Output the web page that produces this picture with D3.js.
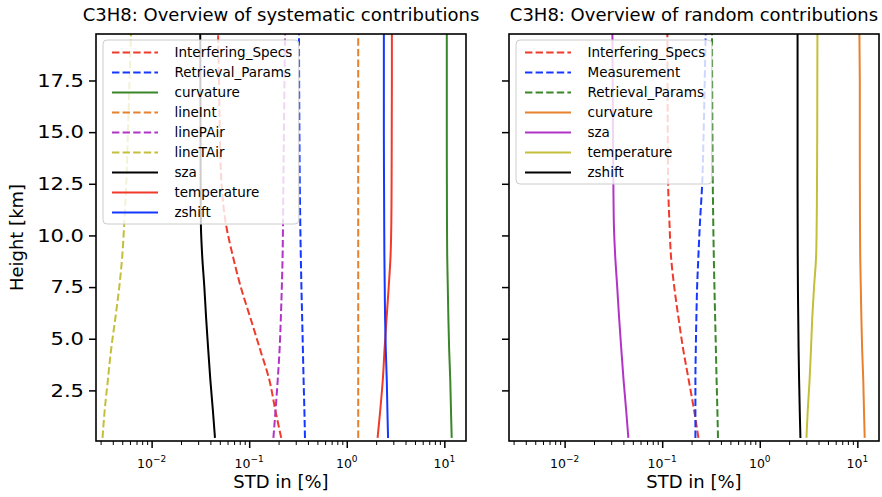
<!DOCTYPE html>
<html>
<head>
<meta charset="utf-8">
<script src="https://cdn.jsdelivr.net/npm/d3@7"></script>
<style>
body { margin: 0; background: #fff; }
text { font-family: "DejaVu Sans", sans-serif; fill: #000; }
</style>
</head>
<body>
<div id="chart"></div>
<script>
// Heights of the profile levels [km].
var heights = [0.2, 1.5, 3, 4.5, 6, 7.5, 9, 10.5, 12.5, 15, 17.5, 19.75];

// Systematic contributions, STD in [%].
var sysInterferingSpecs = [0.213, 0.186, 0.161, 0.129, 0.103, 0.082, 0.068, 0.058, 0.052, 0.050, 0.049, 0.048];
var sysRetrievalParams  = [0.373, 0.368, 0.361, 0.355, 0.349, 0.343, 0.338, 0.334, 0.330, 0.327, 0.325, 0.324];
var sysCurvature        = [11.9, 11.7, 11.5, 11.2, 11.0, 10.85, 10.7, 10.65, 10.62, 10.6, 10.6, 10.6];
var sysLineInt          = [1.31, 1.31, 1.31, 1.31, 1.31, 1.31, 1.31, 1.31, 1.31, 1.31, 1.31, 1.31];
var sysLinePAir         = [0.177, 0.186, 0.196, 0.205, 0.211, 0.216, 0.220, 0.222, 0.224, 0.227, 0.230, 0.233];
var sysLineTAir         = [0.00314, 0.00330, 0.00356, 0.00385, 0.00425, 0.00466, 0.00500, 0.00523, 0.00550, 0.00572, 0.00594, 0.00614];
var sysSza              = [0.0446, 0.0425, 0.0400, 0.0380, 0.0362, 0.0347, 0.0330, 0.0320, 0.0318, 0.0317, 0.0316, 0.0315];
var sysTemperature      = [2.07, 2.20, 2.34, 2.44, 2.56, 2.69, 2.81, 2.86, 2.88, 2.89, 2.90, 2.90];
var sysZshift           = [2.65, 2.61, 2.57, 2.51, 2.47, 2.45, 2.43, 2.42, 2.41, 2.40, 2.40, 2.40];

// Random contributions, STD in [%].
var rndInterferingSpecs = [0.235, 0.213, 0.187, 0.164, 0.147, 0.133, 0.123, 0.119, 0.115, 0.114, 0.1135, 0.113];
var rndMeasurement      = [0.219, 0.219, 0.219, 0.221, 0.224, 0.228, 0.235, 0.243, 0.257, 0.266, 0.273, 0.279];
var rndRetrievalParams  = [0.373, 0.368, 0.361, 0.355, 0.349, 0.343, 0.338, 0.334, 0.330, 0.327, 0.325, 0.324];
var rndCurvature        = [11.9, 11.7, 11.5, 11.2, 11.0, 10.85, 10.7, 10.65, 10.62, 10.6, 10.6, 10.5];
var rndSza              = [0.0450, 0.0428, 0.0402, 0.0381, 0.0362, 0.0346, 0.0330, 0.0320, 0.0316, 0.0313, 0.0311, 0.0309];
var rndTemperature      = [3.01, 3.10, 3.24, 3.35, 3.45, 3.60, 3.78, 3.83, 3.86, 3.88, 3.89, 3.90];
var rndZshift           = [2.61, 2.57, 2.53, 2.50, 2.48, 2.46, 2.45, 2.445, 2.44, 2.44, 2.44, 2.44];

var yTicks = [2.5, 5.0, 7.5, 10.0, 12.5, 15.0, 17.5];
var xDecades = [-2, -1, 0, 1];

var C = {
    red: '#f03a2c', blue: '#1438ff', green: '#3a862a', orange: '#e8812e',
    magenta: '#b234c6', olive: '#c4bf3a', black: '#000000'
};

var sysSeries = [
    { name: 'Interfering_Specs', values: sysInterferingSpecs, color: C.red, dashed: true },
    { name: 'Retrieval_Params', values: sysRetrievalParams, color: C.blue, dashed: true },
    { name: 'curvature', values: sysCurvature, color: C.green, dashed: false },
    { name: 'lineInt', values: sysLineInt, color: C.orange, dashed: true },
    { name: 'linePAir', values: sysLinePAir, color: C.magenta, dashed: true },
    { name: 'lineTAir', values: sysLineTAir, color: C.olive, dashed: true },
    { name: 'sza', values: sysSza, color: C.black, dashed: false },
    { name: 'temperature', values: sysTemperature, color: C.red, dashed: false },
    { name: 'zshift', values: sysZshift, color: C.blue, dashed: false }
];

var rndSeries = [
    { name: 'Interfering_Specs', values: rndInterferingSpecs, color: C.red, dashed: true },
    { name: 'Measurement', values: rndMeasurement, color: C.blue, dashed: true },
    { name: 'Retrieval_Params', values: rndRetrievalParams, color: C.green, dashed: true },
    { name: 'curvature', values: rndCurvature, color: C.orange, dashed: false },
    { name: 'sza', values: rndSza, color: C.magenta, dashed: false },
    { name: 'temperature', values: rndTemperature, color: C.olive, dashed: false },
    { name: 'zshift', values: rndZshift, color: C.black, dashed: false }
];

var svg = d3.select('#chart').append('svg')
    .attr('width', 882)
    .attr('height', 497);

var plotTop = 34, plotBottom = 441;
var yLabelStretch = 1.17;  // tick labels on the height axis are drawn a bit wider

function drawPanel(id, left, right, title, series, showYLabels) {
    var g = svg.append('g');

    var x = d3.scaleLog()
        .domain([Math.pow(10, -2.57), Math.pow(10, 1.222)])
        .range([left, right]);
    var y = d3.scaleLinear()
        .domain([0.05, 19.75])
        .range([plotBottom, plotTop]);

    g.append('clipPath').attr('id', 'clip' + id)
        .append('rect')
        .attr('x', left).attr('y', plotTop)
        .attr('width', right - left).attr('height', plotBottom - plotTop);

    // Profiles.
    var line = d3.line()
        .x(d => x(d.v))
        .y(d => y(d.h))
        .curve(d3.curveMonotoneY);

    var lines = g.append('g').attr('clip-path', 'url(#clip' + id + ')');
    series.forEach(function (s) {
        var pts = heights.map((h, i) => ({ h: h, v: s.values[i] }));
        lines.append('path')
            .attr('d', line(pts))
            .attr('fill', 'none')
            .attr('stroke', s.color)
            .attr('stroke-width', 2)
            .attr('stroke-dasharray', s.dashed ? '7.4,3.2' : null);
    });

    // Y axis.
    var yAxis = g.append('g')
        .attr('transform', 'translate(' + left + ',0)')
        .call(d3.axisLeft(y)
            .tickValues(yTicks)
            .tickSize(7)
            .tickPadding(5)
            .tickFormat(showYLabels ? d3.format('.1f') : ''));
    yAxis.select('.domain').remove();
    yAxis.selectAll('line').attr('stroke-width', 1.5);
    yAxis.selectAll('text')
        .style('font-size', '18px')
        .attr('fill', '#000')
        .attr('x', -12 / yLabelStretch)
        .attr('transform', 'scale(' + yLabelStretch + ',1)');

    // X axis, major ticks.
    var major = xDecades.map(p => Math.pow(10, p));
    var xAxis = g.append('g')
        .attr('transform', 'translate(0,' + plotBottom + ')')
        .call(d3.axisBottom(x).tickValues(major).tickSize(7).tickFormat(''));
    xAxis.select('.domain').remove();
    xAxis.selectAll('line').attr('stroke-width', 1.5);

    // X axis, minor ticks.
    var minor = [];
    [-3, -2, -1, 0, 1].forEach(function (p) {
        for (var k = 2; k <= 9; k++) {
            var v = k * Math.pow(10, p);
            if (v >= x.domain()[0] && v <= x.domain()[1]) minor.push(v);
        }
    });
    var xMinor = g.append('g')
        .attr('transform', 'translate(0,' + plotBottom + ')')
        .call(d3.axisBottom(x).tickValues(minor).tickSize(4).tickFormat(''));
    xMinor.select('.domain').remove();
    xMinor.selectAll('line').attr('stroke-width', 1);

    // Tick labels as 10^p.
    xDecades.forEach(function (p) {
        var t = g.append('text')
            .attr('x', x(Math.pow(10, p)))
            .attr('y', 468)
            .attr('text-anchor', 'middle')
            .style('font-size', '12.5px');
        t.append('tspan').text('10');
        t.append('tspan')
            .attr('dy', -6.5)
            .style('font-size', '9px')
            .text(p < 0 ? '\u2212' + (-p) : String(p));
    });

    // Frame.
    g.append('rect')
        .attr('x', left).attr('y', plotTop)
        .attr('width', right - left).attr('height', plotBottom - plotTop)
        .attr('fill', 'none')
        .attr('stroke', '#000')
        .attr('stroke-width', 1.6);

    // Title and axis label.
    g.append('text')
        .attr('x', (left + right) / 2)
        .attr('y', 21)
        .attr('text-anchor', 'middle')
        .style('font-size', '18px')
        .text(title);

    g.append('text')
        .attr('x', (left + right) / 2)
        .attr('y', 488)
        .attr('text-anchor', 'middle')
        .style('font-size', '18px')
        .text('STD in [%]');

    // Legend.
    var lx = left + 7, ly = 40, rowH = 20;
    var leg = g.append('g').attr('transform', 'translate(' + lx + ',' + ly + ')');
    var box = leg.append('rect')
        .attr('rx', 4).attr('ry', 4)
        .attr('fill', '#fff')
        .attr('fill-opacity', 0.8)
        .attr('stroke', '#cccccc')
        .attr('stroke-width', 1);
    var maxW = 0;
    series.forEach(function (s, i) {
        var cy = 12.5 + i * rowH;
        leg.append('line')
            .attr('x1', 9).attr('x2', 55)
            .attr('y1', cy).attr('y2', cy)
            .attr('stroke', s.color)
            .attr('stroke-width', 2)
            .attr('stroke-dasharray', s.dashed ? '7.4,3.2' : null);
        var t = leg.append('text')
            .attr('x', 71.5)
            .attr('y', cy + 4.8)
            .style('font-size', '13.5px')
            .text(s.name);
        maxW = Math.max(maxW, t.node().getComputedTextLength());
    });
    box.attr('width', 71.5 + maxW + 6.5)
        .attr('height', series.length * rowH + 4);
}

drawPanel('a', 96, 466, 'C3H8: Overview of systematic contributions', sysSeries, true);
drawPanel('b', 509, 879, 'C3H8: Overview of random contributions', rndSeries, false);

svg.append('text')
    .attr('transform', 'translate(23,237.5) rotate(-90)')
    .attr('text-anchor', 'middle')
    .style('font-size', '18px')
    .text('Height [km]');
</script>
</body>
</html>
